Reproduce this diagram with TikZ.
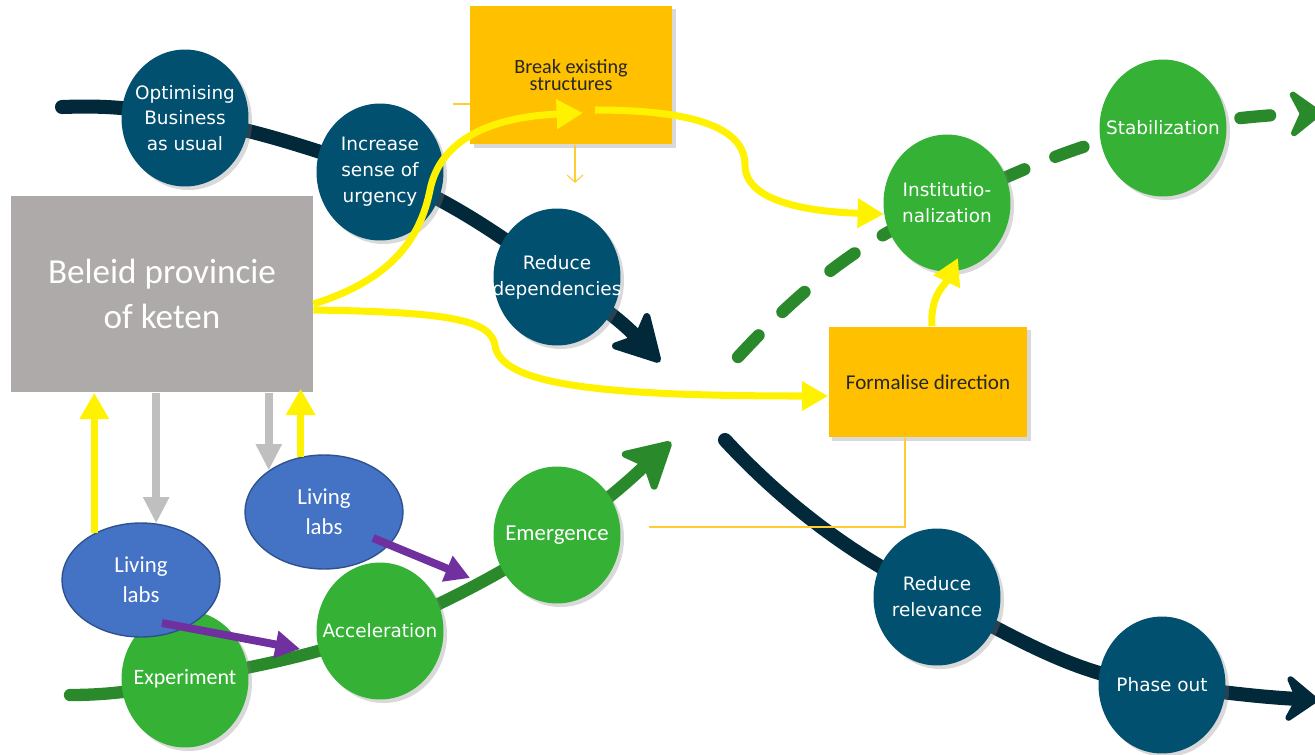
\documentclass[tikz,border=0pt]{standalone}
\usepackage{fontspec}
\setmainfont{Carlito}
\newfontfamily\verdfont{DejaVu Sans}
\usepackage{tikz}
\usetikzlibrary{calc, arrows.meta, shapes.geometric, backgrounds, shadows}
\definecolor{stagedark}{HTML}{02506F}
\definecolor{linedark}{HTML}{02293A}
\definecolor{stagegreen}{HTML}{35B236}
\definecolor{linegreen}{HTML}{2A8A2B}
\definecolor{labblue}{HTML}{4472C4}
\definecolor{labborder}{HTML}{2F528F}
\definecolor{policygray}{HTML}{AEAAAA}
\definecolor{boxorange}{HTML}{FFC000}
\definecolor{arrowgray}{HTML}{BFBFBF}
\definecolor{labpurple}{HTML}{7030A0}
\tikzset{
    softshadow/.style={drop shadow={opacity=0.3, shadow xshift=2pt, shadow yshift=-2pt}},
    stage/.style={ellipse, minimum width=2.54cm, minimum height=2.74cm, inner sep=-14pt, align=center, text=white, softshadow},
    darkstage/.style={stage, fill=stagedark, font=\verdfont\fontsize{10.5}{14.7}\selectfont},
    greenstage/.style={stage, fill=stagegreen, font=\verdfont\fontsize{10.5}{14.7}\selectfont},
    labnode/.style={ellipse, minimum width=3.16cm, minimum height=2.28cm, inner sep=-8pt, align=center, text=white, fill=labblue, draw=labborder, thick, font=\fontsize{13}{17}\selectfont},
    actionbox/.style={rectangle, fill=boxorange, inner sep=0pt, align=center, text=black!85, softshadow},
    darkpath/.style={linedark, line width=8pt, line cap=round, -{Stealth[length=30pt, width=33pt, inset=7pt, round, line width=4pt]}},
    greenpath/.style={linegreen, line width=7pt, line cap=round, -{Stealth[length=30pt, width=33pt, inset=7pt, round, line width=4pt]}},
    endarrow/.style={-{Stealth[length=22pt, width=33pt, inset=8pt, round, line width=4pt]}},
    yellowarrow/.style={yellow, line width=4pt, -{Triangle[length=15pt, width=16pt]}},
    grayarrow/.style={arrowgray, line width=4.5pt, -{Triangle[length=15pt, width=14pt]}},
    purplearrow/.style={labpurple, line width=4.5pt, -{Triangle[length=14pt, width=15pt]}},
    thinline/.style={boxorange!80, line width=0.6pt}
}
\begin{document}
\begin{tikzpicture}[x=0.02cm, y=-0.02cm]
    \useasboundingbox (0,0) rectangle (1315,754);

    % Policy and action boxes
    \node[rectangle, fill=policygray, minimum width=6.04cm, minimum height=3.94cm, inner sep=0pt, align=center, text=white, font=\fontsize{20}{26}\selectfont] (bel) at (162,294) {Beleid provincie\\of keten};
    \node[actionbox, minimum width=4.04cm, minimum height=2.78cm, font=\fontsize{11.5}{10}\selectfont] (brk) at (571,75) {Break existing\\structures};
    \node[actionbox, minimum width=3.98cm, minimum height=2.22cm, font=\fontsize{12}{14}\selectfont] (fml) at (928,382) {Formalise direction};

    % Regime stages
    \node[darkstage] (opt) at (185,118) {Optimising\\Business\\as usual};
    \node[darkstage] (urg) at (380,172) {Increase\\sense of\\urgency};
    \node[darkstage] (dep) at (557,277) {Reduce\\dependencies};
    \node[darkstage] (rel) at (937,597) {Reduce\\relevance};
    \node[darkstage] (pho) at (1162,685) {Phase out};

    % Niche stages
    \node[greenstage, font=\fontsize{12.5}{15}\selectfont] (exp) at (185,679) {Experiment};
    \node[greenstage] (acc) at (380,631) {Acceleration};
    \node[greenstage, font=\fontsize{13}{15}\selectfont] (emg) at (557,535) {Emergence};
    \node[greenstage] (ins) at (947,203) {Institutio-\\nalization};
    \node[greenstage] (sta) at (1163,128) {Stabilization};

    % Living labs
    \node[labnode] (ll1) at (141,580) {Living\\labs};
    \node[labnode] (ll2) at (324,512) {Living\\labs};

    % Free ends
    \coordinate (dstart) at (62,107);
    \coordinate (dtip) at (660,362);
    \coordinate (rstart) at (725,440);
    \coordinate (rtip) at (1318,700);
    \coordinate (gstart) at (70,695);
    \coordinate (gtip) at (671,442);
    \coordinate (sstart) at (738,357);
    \coordinate (stip) at (1322,113);
    \coordinate (brkin) at (583,113);
    \coordinate (brkout) at (595,110);
    \coordinate (fmlcorner) at (649,527);
    \coordinate (p1tip) at (300,649);
    \coordinate (p2tip) at (470,578);

    \begin{scope}[on background layer]
        % Regime lines
        \draw[darkpath] (dstart) .. controls (120,105) and (140,110) .. (opt.center) .. controls (250,128) and (310,148) .. (urg.center) .. controls (450,200) and (500,235) .. (dep.center) .. controls (610,310) and (630,330) .. (dtip);
        \draw[darkpath, endarrow] (rstart) .. controls (790,510) and (860,560) .. (rel.center) .. controls (1020,640) and (1080,678) .. (pho.center) .. controls (1230,693) and (1260,697) .. (rtip);
        % Niche lines
        \draw[greenpath] (gstart) .. controls (110,695) and (150,690) .. (exp.center) .. controls (270,665) and (330,650) .. (acc.center) .. controls (450,600) and (510,570) .. (emg.center) .. controls (610,500) and (640,470) .. (gtip);
        \draw[greenpath, endarrow, dash pattern=on 17pt off 19pt] (sstart) .. controls (800,290) and (860,240) .. (ins.center) .. controls (1020,172) and (1080,140) .. (sta.center) .. controls (1220,120) and (1260,115) .. (stip);
    \end{scope}

    % Thin box connectors
    \draw[thinline] ($(brk.west)+(-17,29)$) -- ($(brk.west)+(0,29)$);
    \draw[thinline, -{Straight Barb[length=4pt, width=9pt]}] ($(brk.south)+(4,0)$) -- ++(0,38);
    \draw[thinline] ($(fml.south)+(-23,0)$) |- (fmlcorner);

    % Policy influence
    \draw[yellowarrow] ($(bel.east)+(0,10)$) .. controls (390,280) and (420,240) .. (430,190) .. controls (440,140) and (490,117) .. (brkin);
    \draw[yellowarrow] (brkout) .. controls (700,110) and (745,130) .. (745,165) .. controls (745,205) and (820,212) .. (ins.190);
    \draw[yellowarrow] ($(bel.east)+(0,16)$) .. controls (450,312) and (490,320) .. (495,345) .. controls (500,385) and (600,396) .. ($(fml.west)+(0,14)$);
    \draw[yellowarrow] ($(fml.north)+(4,0)$) .. controls (930,295) and (945,285) .. (958,258);
    \draw[yellowarrow] (ll1.135) -- (ll1.135 |- bel.south);
    \draw[yellowarrow] (ll2.113) -- ($(ll2.113 |- bel.south)+(0,-4)$);
    \draw[grayarrow] (ll1.75 |- bel.south) -- (ll1.75);
    \draw[grayarrow] (ll2.143 |- bel.south) -- (ll2.143);

    % Living labs feeding niches
    \draw[purplearrow] ($(ll1.center)+(21,43)$) -- (p1tip);
    \draw[purplearrow] ($(ll2.center)+(49,26)$) -- (p2tip);
\end{tikzpicture}
\end{document}
